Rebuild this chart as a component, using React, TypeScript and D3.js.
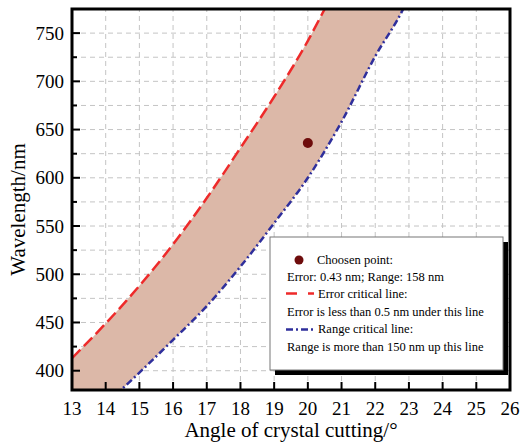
import React, { useEffect, useRef } from "react";
import * as d3 from "d3";

// error critical line (red dashed)
const errorAngle = [13, 14, 15, 16, 17, 18, 19, 20, 20.5, 20.8];
const errorWavelength = [413, 449, 488, 531, 579, 631, 684, 742, 775, 795];

// range critical line (blue dash-dot)
const rangeAngle = [14.3, 15, 16, 17, 18, 19, 20, 21, 22, 22.8, 23.1];
const rangeWavelength = [375, 398, 432, 467, 508, 553, 600, 658, 726, 773, 795];

const chosenPoint = [20, 636];

const xTicks = [13, 14, 15, 16, 17, 18, 19, 20, 21, 22, 23, 24, 25, 26];
const yTicks = [400, 450, 500, 550, 600, 650, 700, 750];
const yMinorTicks = [425, 475, 525, 575, 625, 675, 725];

const legendLines = [
  "Choosen point:",
  "Error: 0.43 nm; Range: 158 nm",
  "Error critical line:",
  "Error is less than 0.5 nm under this line",
  "Range critical line:",
  "Range is more than 150 nm up this line",
];

const FONT = "'Liberation Serif', 'Times New Roman', serif";
const RED_DASH = "12,5";
const BLUE_DASH = "7,3,2,3";

export default function App() {
  const ref = useRef<SVGSVGElement | null>(null);

  useEffect(() => {
    const svg = d3.select(ref.current);
    svg.selectAll("*").remove();

    const left = 72, right = 510, top = 9, bottom = 390;
    const x = d3.scaleLinear().domain([13, 26]).range([left, right]);
    const y = d3.scaleLinear().domain([380, 775]).range([bottom, top]);

    svg.append("rect").attr("width", 521).attr("height", 443).attr("fill", "#fff");

    svg.append("clipPath").attr("id", "plotclip")
      .append("rect")
      .attr("x", left).attr("y", top)
      .attr("width", right - left).attr("height", bottom - top);

    // grid
    const grid = svg.append("g")
      .attr("stroke", "#c4c4c4")
      .attr("stroke-width", 1)
      .attr("stroke-dasharray", "5,4");
    xTicks.slice(1, -1).forEach(t => {
      grid.append("line").attr("x1", x(t)).attr("x2", x(t)).attr("y1", bottom).attr("y2", top);
    });
    yTicks.concat(yMinorTicks).forEach(t => {
      grid.append("line").attr("x1", left).attr("x2", right).attr("y1", y(t)).attr("y2", y(t));
    });

    const plot = svg.append("g").attr("clip-path", "url(#plotclip)");

    const errPts: [number, number][] = errorAngle.map((a, i) => [a, errorWavelength[i]]);
    const rangePts: [number, number][] = rangeAngle.map((a, i) => [a, rangeWavelength[i]]);

    const line = d3.line<[number, number]>()
      .x(d => x(d[0])).y(d => y(d[1]))
      .curve(d3.curveMonotoneX);

    // shaded band between the lines
    const bandPath = line(errPts) + "L" + line(rangePts.slice().reverse())!.slice(1)
      + `L${x(13)},${y(370)}Z`;
    plot.append("path")
      .attr("fill", "#dcb8a8")
      .attr("d", bandPath);

    plot.append("path")
      .datum(errPts)
      .attr("fill", "none")
      .attr("stroke", "#ee2a2a")
      .attr("stroke-width", 2.5)
      .attr("stroke-dasharray", RED_DASH)
      .attr("d", line);

    plot.append("path")
      .datum(rangePts)
      .attr("fill", "none")
      .attr("stroke", "#2f2f9c")
      .attr("stroke-width", 2.5)
      .attr("stroke-dasharray", BLUE_DASH)
      .attr("d", line);

    plot.append("circle")
      .attr("cx", x(chosenPoint[0]))
      .attr("cy", y(chosenPoint[1]))
      .attr("r", 5)
      .attr("fill", "#6e0c0c");

    // frame
    svg.append("rect")
      .attr("x", left).attr("y", top)
      .attr("width", right - left).attr("height", bottom - top)
      .attr("fill", "none")
      .attr("stroke", "#000")
      .attr("stroke-width", 3);

    // ticks (inward)
    const ticks = svg.append("g").attr("stroke", "#000").attr("stroke-width", 2);
    xTicks.slice(1, -1).forEach(t => {
      ticks.append("line").attr("x1", x(t)).attr("x2", x(t)).attr("y1", bottom).attr("y2", bottom - 8);
    });
    yTicks.forEach(t => {
      ticks.append("line").attr("x1", left).attr("x2", left + 8).attr("y1", y(t)).attr("y2", y(t));
    });
    yMinorTicks.forEach(t => {
      ticks.append("line").attr("x1", left).attr("x2", left + 5).attr("y1", y(t)).attr("y2", y(t));
    });

    svg.append("g").selectAll("text")
      .data(xTicks)
      .join("text")
      .attr("x", d => x(d))
      .attr("y", 415)
      .attr("text-anchor", "middle")
      .attr("font-family", FONT)
      .attr("font-size", 19)
      .text(d => d);

    svg.append("g").selectAll("text")
      .data(yTicks)
      .join("text")
      .attr("x", 64)
      .attr("y", d => y(d) + 6.5)
      .attr("text-anchor", "end")
      .attr("font-family", FONT)
      .attr("font-size", 19)
      .text(d => d);

    svg.append("text")
      .attr("x", (left + right) / 2)
      .attr("y", 437)
      .attr("text-anchor", "middle")
      .attr("font-family", FONT)
      .attr("font-size", 21)
      .text("Angle of crystal cutting/°");

    svg.append("text")
      .attr("transform", `translate(25,${(top + bottom) / 2 + 10}) rotate(-90)`)
      .attr("text-anchor", "middle")
      .attr("font-family", FONT)
      .attr("font-size", 21)
      .text("Wavelength/nm");

    // legend
    const lg = svg.append("g");
    lg.append("rect")
      .attr("x", 275).attr("y", 242).attr("width", 233).attr("height", 133)
      .attr("fill", "#000");
    lg.append("rect")
      .attr("x", 270).attr("y", 237).attr("width", 233).attr("height", 133)
      .attr("fill", "#fff")
      .attr("stroke", "#777")
      .attr("stroke-width", 1);

    const baselines = [264, 281, 298, 316, 333, 351];
    const textX = [317, 287, 318, 287, 318, 287];
    lg.selectAll("text")
      .data(legendLines)
      .join("text")
      .attr("x", (d, i) => textX[i])
      .attr("y", (d, i) => baselines[i])
      .attr("font-family", FONT)
      .attr("font-size", 12.5)
      .text(d => d);

    lg.append("circle").attr("cx", 299).attr("cy", 260).attr("r", 4.5).attr("fill", "#6e0c0c");
    lg.append("line")
      .attr("x1", 286).attr("x2", 314).attr("y1", 293.5).attr("y2", 293.5)
      .attr("stroke", "#ee2a2a").attr("stroke-width", 2.5)
      .attr("stroke-dasharray", "11,11");
    lg.append("line")
      .attr("x1", 286).attr("x2", 314).attr("y1", 329.5).attr("y2", 329.5)
      .attr("stroke", "#2f2f9c").attr("stroke-width", 2.5)
      .attr("stroke-dasharray", BLUE_DASH);
  }, []);

  return (
    <svg
      ref={ref}
      width={521}
      height={443}
      style={{ position: "absolute", left: 0, top: 0 }}
    />
  );
}
